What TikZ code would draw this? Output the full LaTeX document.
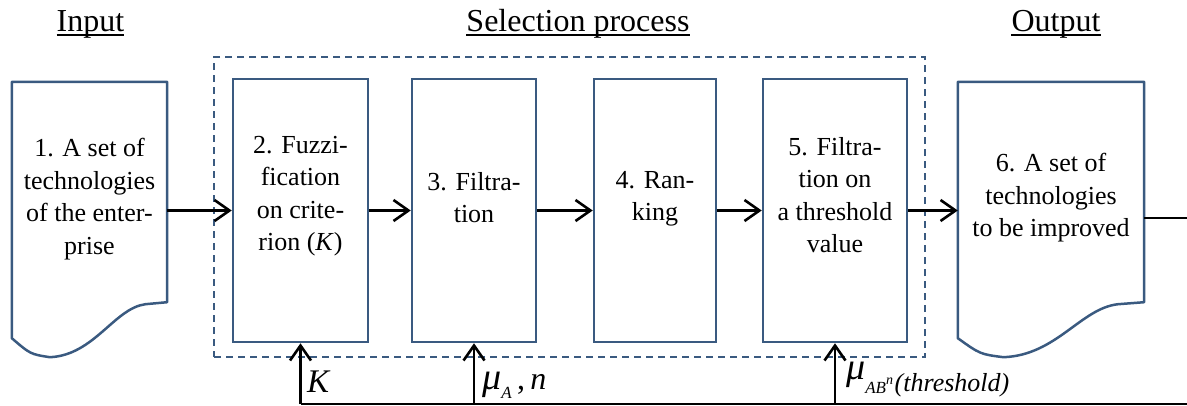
\documentclass[tikz,border=0pt]{standalone}
\usepackage{fontspec}
\setmainfont{Liberation Serif}
\usetikzlibrary{arrows.meta,calc}
\definecolor{boxblue}{RGB}{58,90,128}
\newcommand\docoutline[1]{%
  \draw[docline] (#1.north west) -- (#1.north east)
    -- ($(#1.south east)+(0,-36)$)
    -- ($(#1.south west)!0.86!(#1.south east)+(0,-34)$)
    .. controls ($(#1.south west)!0.66!(#1.south east)+(0,-30)$)
       and ($(#1.south west)!0.53!(#1.south east)+(0,17)$)
    .. ($(#1.south west)!0.245!(#1.south east)+(0,19)$)
    .. controls ($(#1.south west)!0.12!(#1.south east)+(0,16)$)
    .. (#1.south west) -- cycle;}
\begin{document}
\begin{tikzpicture}[x=1pt,y=-1pt,
  boxnode/.style={draw=boxblue,line width=2.5pt,rectangle,inner sep=0,minimum height=263},
  docnode/.style={rectangle,inner sep=0,minimum height=256},
  docline/.style={draw=boxblue,line width=2.5pt,line join=round},
  selbox/.style={draw=boxblue,line width=1.8pt,dash pattern=on 7pt off 5pt,rectangle,inner sep=0},
  txt/.style={font=\fontsize{26}{32.5}\selectfont,align=center,inner sep=0,anchor=north},
  ttl/.style={font=\fontsize{32}{38}\selectfont,inner sep=0,anchor=base},
  uline/.style={line width=1.3pt},
  arr/.style={line width=2.6pt,-{Straight Barb[length=15pt,width=21pt,line width=2.6pt]}},
  ln/.style={line width=2pt},
  lbl/.style={inner sep=0,anchor=base west}]
\useasboundingbox (0,0) rectangle (1187,405);

% titles
\node[ttl] (tin) at (90.5,31) {Input};
\node[ttl] (tsel) at (578,31) {Selection process};
\node[ttl] (tout) at (1056,31) {Output};
\foreach \t in {tin,tsel,tout}{
  \draw[uline] ($(\t.base west)+(0,4)$) -- ($(\t.base east)+(0,4)$);}

% selection frame
\node[selbox,minimum width=711,minimum height=300] (sel) at (569.5,207) {};

% documents
\node[docnode,minimum width=155] (d1) at (89.5,210) {};
\node[docnode,minimum width=186] (d6) at (1051,210) {};
\docoutline{d1}
\docoutline{d6}

% process boxes
\node[boxnode,minimum width=135] (b2) at (300.5,210.5) {};
\node[boxnode,minimum width=124] (b3) at (474,210.5) {};
\node[boxnode,minimum width=122] (b4) at (655,210.5) {};
\node[boxnode,minimum width=144] (b5) at (835,210.5) {};

% texts
\node[txt] (t1) at (89.5,138) {1. A set of\\technologies\\of the enter-\\prise};
\node[txt] (t2) at (300.5,136) {2. Fuzzi-\\fication\\on crite-\\rion (\textit{K})};
\node[txt] (t3) at (474,172) {3. Filtra-\\tion};
\node[txt] (t4) at (655,171) {4. Ran-\\king};
\node[txt] (t5) at (835,137) {5. Filtra-\\tion on\\a threshold\\value};
\node[txt] (t6) at (1051,153) {6. A set of\\technologies\\to be improved};

% horizontal flow
\draw[arr] (d1.east |- b2.west) -- (b2.west);
\draw[arr] (b2.east) -- (b3.west);
\draw[arr] (b3.east) -- (b4.west);
\draw[arr] (b4.east) -- (b5.west);
\draw[arr] (b5.east) -- (d6.west |- b5.east);
\coordinate (outend) at (1187,218);
\draw[ln] (d6.east |- outend) -- (outend);

% bottom parameter line
\coordinate (bl) at (1187,404);
\draw[ln] (b2.south |- bl) -- (bl);
\draw[arr] (b2.south |- bl) -- (b2.south);
\draw[arr] (b3.south |- bl) -- (b3.south);
\draw[arr] (b5.south |- bl) -- (b5.south);

% parameter labels
\node[lbl,font=\fontsize{33}{33}\selectfont\itshape] (lk) at (307,392) {K};
\node[lbl] (lmu) at (482,389)
  {{\fontsize{38}{38}\selectfont\textit{μ}}\raisebox{-9pt}{\fontsize{17}{17}\selectfont\textit{A}}{\fontsize{32}{32}\selectfont\,,\,\textit{n}}};
\node[lbl] (lthr) at (846,391)
  {\raisebox{12pt}{\fontsize{38}{38}\selectfont\textit{μ}}\raisebox{-2pt}{\fontsize{17}{17}\selectfont\textit{AB}\raisebox{9pt}{\fontsize{14}{14}\selectfont\textit{n}}}\,{\fontsize{26}{26}\selectfont\textit{(threshold)}}};
\end{tikzpicture}
\end{document}
